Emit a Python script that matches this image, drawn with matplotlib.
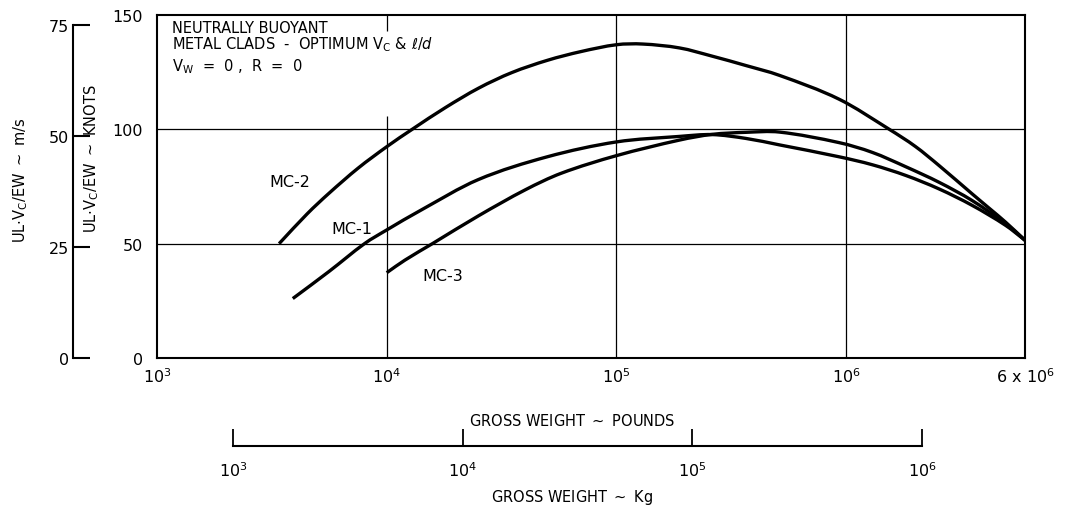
import numpy as np
import matplotlib.pyplot as plt
from matplotlib.path import Path
from matplotlib.patches import PathPatch

plt.rcParams['font.family'] = ['DejaVu Sans']
plt.rcParams['mathtext.fontset'] = 'dejavusans'

# gross weight (lb) vs UL*Vc/EW (knots)
mc2_lb = [3400, 4500, 5600, 7500, 1e4, 1.29e4, 1.8e4, 2.51e4, 3.5e4, 5.01e4, 7e4,
          1e5, 1.3e5, 1.88e5, 2.61e5, 3.66e5, 5.12e5, 9.3e5, 1.54e6, 2.0e6, 2.54e6,
          3.54e6, 4.19e6, 4.94e6, 6e6]
mc2_kt = [50, 63, 72, 83, 92.4, 100, 109.5, 118, 124.8, 130.2, 134,
          137, 137.3, 135.6, 132, 127.9, 123.6, 113.2, 100, 92.5, 84.1,
          71.7, 65.5, 59.4, 51.5]

mc1_lb = [3900, 5600, 8000, 1e4, 1.4e4, 2.5e4, 5e4, 1e5, 1.88e5, 2.61e5, 3.67e5,
          5.12e5, 9.3e5, 1.3e6, 1.82e6, 2.54e6, 3.54e6, 4.94e6, 6e6]
mc1_kt = [26, 37.8, 50, 56, 64.5, 78, 88, 94.5, 96.9, 97.7, 96.0,
          93.2, 88, 84.5, 79.8, 73.9, 66.7, 58, 51.5]

mc3_lb = [1e4, 1.2e4, 1.58e4, 2.51e4, 4e4, 5.75e4, 1e5, 1.88e5, 2.61e5, 3.67e5, 5.12e5,
          9.3e5, 1.3e6, 1.82e6, 2.54e6, 3.54e6, 4.94e6, 6e6]
mc3_kt = [37.3, 42.8, 50, 62.2, 73.5, 80.8, 88.5, 95.3, 97.8, 98.7, 98.8,
          94.2, 89.9, 83.6, 76.8, 68.8, 58.7, 51.5]

lb_ticks = [1e3, 1e4, 1e5, 1e6, 6e6]
lb_labels = ['$10^3$', '$10^4$', '$10^5$', '$10^6$', '$6\\ \\mathrm{x}\\ 10^6$']
kg_ticks = [1e3, 1e4, 1e5, 1e6]
kg_labels = ['$10^3$', '$10^4$', '$10^5$', '$10^6$']
kt_ticks = [0, 50, 100, 150]
ms_ticks = [0, 25, 50, 75]

LB_PER_KG = 2.20462
KT_PER_MS = 1.94384


def smooth_path(xs, ys):
    # cubic Hermite through the points, built in log10(x) so it stays smooth on the log axis
    u = np.log10(xs)
    y = np.asarray(ys, float)
    m = np.empty_like(y)
    m[1:-1] = (y[2:] - y[:-2]) / (u[2:] - u[:-2])
    m[0] = (y[1] - y[0]) / (u[1] - u[0])
    m[-1] = (y[-1] - y[-2]) / (u[-1] - u[-2])
    verts = [(u[0], y[0])]
    codes = [Path.MOVETO]
    for i in range(len(u) - 1):
        h = u[i + 1] - u[i]
        verts += [(u[i] + h / 3, y[i] + m[i] * h / 3),
                  (u[i + 1] - h / 3, y[i + 1] - m[i + 1] * h / 3),
                  (u[i + 1], y[i + 1])]
        codes += [Path.CURVE4] * 3
    verts = [(10 ** a, b) for a, b in verts]
    return Path(verts, codes)


fig = plt.figure(figsize=(10.66, 5.10), dpi=100)
ax = fig.add_axes([157 / 1066, 151 / 510, 868 / 1066, 343 / 510])
ax.set_xscale('log')
ax.set_xlim(1e3, 6e6)
ax.set_ylim(0, 150)
ax.set_xticks(lb_ticks)
ax.set_xticklabels(lb_labels)
ax.minorticks_off()
ax.set_yticks(kt_ticks)
ax.tick_params(length=0, labelsize=11.5, pad=6)
ax.tick_params(axis='y', pad=10)
for s in ax.spines.values():
    s.set_linewidth(1.5)

# grid
for y in [50, 100]:
    ax.axhline(y, color='k', lw=0.9, zorder=1)
ax.vlines(1e4, 0, 106, color='k', lw=0.9, zorder=1)
ax.vlines(1e4, 143, 150, color='k', lw=0.9, zorder=1)
for x in [1e5, 1e6]:
    ax.axvline(x, color='k', lw=0.9, zorder=1)

for xs, ys in [(mc2_lb, mc2_kt), (mc1_lb, mc1_kt), (mc3_lb, mc3_kt)]:
    ax.add_patch(PathPatch(smooth_path(xs, ys), fill=False, edgecolor='k', lw=2.4,
                           capstyle='butt', zorder=3))

ax.text(3790, 77.4, 'MC-2', fontsize=11.5, ha='center', va='center')
ax.text(7050, 56.8, 'MC-1', fontsize=11.5, ha='center', va='center')
ax.text(17500, 35.9, 'MC-3', fontsize=11.5, ha='center', va='center')

ax.text(0.017, 0.985, 'NEUTRALLY BUOYANT', transform=ax.transAxes, fontsize=10.5, va='top')
ax.text(0.017, 0.944, 'METAL CLADS  -  OPTIMUM V$_\\mathrm{C}$ & $\\ell/d$', transform=ax.transAxes,
        fontsize=10.5, va='top')
ax.text(0.017, 0.88, 'V$_\\mathrm{W}$  =  0 ,  R  =  0', transform=ax.transAxes, fontsize=10.5, va='top')

ax.set_ylabel('UL$\\cdot$V$_\\mathrm{C}$/EW $\\sim$ KNOTS', fontsize=10.5)
ax.yaxis.set_label_coords(-0.065, 0.585)
ax.text(0.478, -0.18, 'GROSS WEIGHT $\\sim$ POUNDS', transform=ax.transAxes,
        fontsize=10.5, ha='center', va='center')

# metres per second scale
ax_ms = fig.add_axes([73 / 1066, 151 / 510, 0.001, 343 / 510])
ax_ms.set_ylim(0, 150 / KT_PER_MS)
ax_ms.set_yticks(ms_ticks)
ax_ms.set_xticks([])
ax_ms.patch.set_visible(False)
for k in ['top', 'right', 'bottom']:
    ax_ms.spines[k].set_visible(False)
ax_ms.spines['left'].set_bounds(0, 75)
ax_ms.spines['left'].set_linewidth(1.5)
ax_ms.tick_params(axis='y', direction='in', length=12, width=1.5, labelsize=11.5, pad=3)
ax_ms.set_ylabel('UL$\\cdot$V$_\\mathrm{C}$/EW $\\sim$ m/s', fontsize=10.5)
ax_ms.yaxis.set_label_coords(-40, 0.522)

# kilogram scale
ax_kg = fig.add_axes([154 / 1066, 63 / 510, 868 / 1066, 0.001])
ax_kg.set_xscale('log')
ax_kg.set_xlim(1e3 / LB_PER_KG, 6e6 / LB_PER_KG)
ax_kg.set_xticks(kg_ticks)
ax_kg.set_xticklabels(kg_labels)
ax_kg.minorticks_off()
ax_kg.set_yticks([])
ax_kg.patch.set_visible(False)
for k in ['top', 'right', 'left']:
    ax_kg.spines[k].set_visible(False)
ax_kg.spines['bottom'].set_bounds(1e3, 1e6)
ax_kg.spines['bottom'].set_linewidth(1.5)
ax_kg.tick_params(axis='x', direction='in', length=12, width=1.3, labelsize=11.5, pad=10)
fig.text(572 / 1066, 1 - 498 / 510, 'GROSS WEIGHT $\\sim$ Kg', fontsize=10.5, ha='center', va='center')

fig.savefig('out.png', dpi=100)
